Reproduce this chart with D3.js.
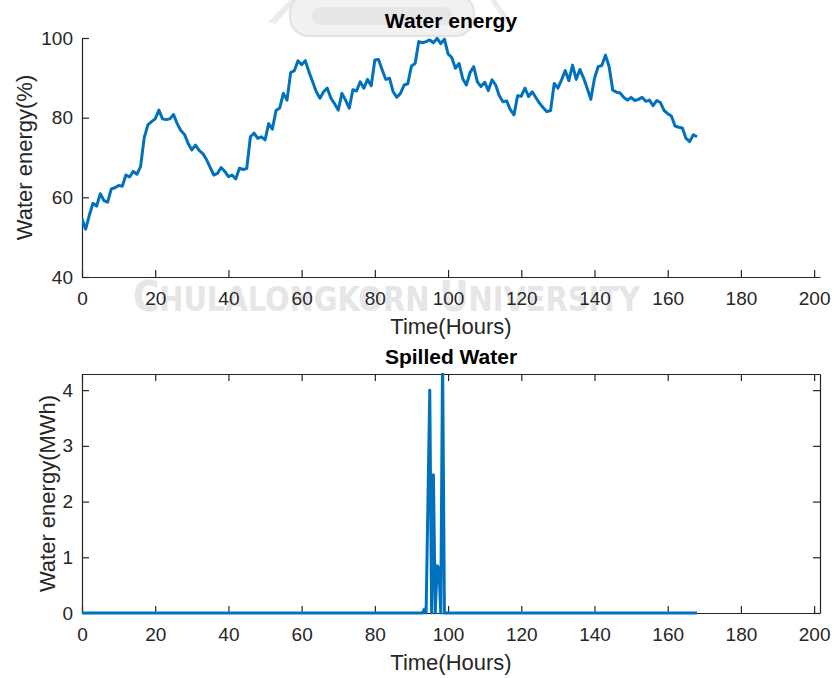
<!DOCTYPE html>
<html>
<head>
<meta charset="utf-8">
<script src="https://cdn.jsdelivr.net/npm/d3@7"></script>
<style>
  body { margin: 0; background: #fff; }
  svg { display: block; font-family: "Liberation Sans", Arial, sans-serif; }
  .axis path, .axis line { stroke: #262626; stroke-width: 1.2; }
  .axis text { fill: #262626; font-size: 19px; font-family: "Liberation Sans", Arial, sans-serif; }
</style>
</head>
<body>
<div id="chart"></div>
<script>
// hourly stored water energy in percent, hour 0..168
const waterEnergy = [
  54.6, 52.0, 55.5, 58.5, 57.8, 60.9, 59.2, 58.8, 62.1, 62.4,
  63.0, 62.8, 65.6, 65.1, 66.5, 65.8, 67.7, 75.0, 78.2, 79.0,
  79.7, 81.9, 79.7, 79.5, 79.7, 80.8, 78.5, 76.8, 75.8, 73.5,
  71.9, 73.1, 71.8, 71.0, 69.5, 67.5, 65.6, 66.0, 67.5, 66.5,
  65.2, 65.6, 64.6, 67.3, 67.0, 67.2, 75.2, 76.1, 74.8, 75.2,
  74.4, 78.5, 77.1, 81.8, 82.4, 86.1, 84.4, 91.3, 91.8, 94.3,
  93.3, 94.3, 91.5, 89.0, 86.5, 84.9, 86.5, 87.4, 84.9, 83.5,
  81.9, 86.1, 84.4, 82.4, 87.0, 86.7, 89.0, 87.4, 89.6, 88.0,
  94.5, 94.6, 92.0, 89.6, 89.9, 86.5, 85.1, 86.1, 88.2, 88.5,
  93.0, 93.6, 99.1, 98.8, 99.1, 99.5, 98.8, 99.9, 98.6, 99.7,
  96.0, 95.1, 92.4, 93.6, 89.8, 88.2, 91.3, 92.8, 89.0, 87.8,
  88.9, 86.8, 89.5, 88.2, 85.5, 84.0, 84.2, 82.0, 80.7, 85.5,
  85.4, 87.4, 85.3, 86.5, 85.0, 83.6, 82.5, 81.5, 81.8, 88.6,
  87.4, 89.5, 91.8, 89.3, 93.2, 89.6, 92.1, 90.0, 87.4, 84.6,
  89.9, 92.8, 93.1, 95.7, 92.8, 86.9, 86.4, 86.2, 85.1, 84.4,
  85.1, 84.3, 84.6, 85.1, 84.1, 84.4, 83.0, 84.3, 83.8, 81.8,
  81.0, 80.4, 77.9, 77.6, 77.4, 74.8, 74.0, 75.7, 75.2
];

// spilled water (MWh), only nonzero around hour 93-99
const spillHours  = [0, 93, 93.5, 94, 95, 95.5, 96, 96.5, 97, 97.5, 98, 98.5, 99, 168];
const spillValues = [0, 0, 0.07, 0, 4.0, 0, 2.48, 0, 0.85, 0.8, 0, 4.6, 0, 0];

const xTicks = [0, 20, 40, 60, 80, 100, 120, 140, 160, 180, 200];
const energyTicks = [40, 60, 80, 100];
const spillTicks = [0, 1, 2, 3, 4];

const W = 834, H = 678;
const lineColor = '#0072BD';

const svg = d3.select('#chart').append('svg')
  .attr('width', W)
  .attr('height', H);

// faint university watermark behind everything
const wm = svg.append('g').attr('class', 'watermark');
wm.append('path')
  .attr('d', 'M268,22 L290,0 L296,0 L276,24 Z M490,0 L496,0 L512,22 L506,24 Z')
  .attr('fill', '#ececec');
wm.append('rect')
  .attr('x', 290).attr('y', -6).attr('width', 184).attr('height', 42).attr('rx', 19)
  .attr('fill', '#f1f1f1').attr('stroke', '#e2e2e2').attr('stroke-width', 2);
wm.append('rect')
  .attr('x', 312).attr('y', 7).attr('width', 140).attr('height', 18).attr('rx', 8)
  .attr('fill', '#e6e6e6');
const wmText = wm.append('text')
  .attr('x', 133).attr('y', 311)
  .attr('textLength', 507).attr('lengthAdjust', 'spacingAndGlyphs')
  .attr('fill', '#e6e6e6')
  .attr('font-family', '"DejaVu Sans Condensed", "DejaVu Sans", sans-serif')
  .attr('font-weight', 'bold');
wmText.append('tspan').attr('font-size', 42).text('C');
wmText.append('tspan').attr('font-size', 34).text('HULALONGKORN ');
wmText.append('tspan').attr('font-size', 42).text('U');
wmText.append('tspan').attr('font-size', 34).text('NIVERSITY');

const x = d3.scaleLinear().domain([0, 201.6]).range([82, 820]);

function drawPanel(opts) {
  const { top, bottom, yDomain, ticks, title, yLabel, box, labelX, clipId } = opts;
  const y = d3.scaleLinear().domain(yDomain).range([bottom, top]);
  const g = svg.append('g');

  // x axis
  g.append('g')
    .attr('class', 'axis')
    .attr('transform', `translate(0,${bottom})`)
    .call(d3.axisBottom(x).tickValues(xTicks).tickSize(-7).tickSizeOuter(0).tickPadding(14.5).tickFormat(d3.format('d')));

  // y axis
  g.append('g')
    .attr('class', 'axis')
    .attr('transform', 'translate(82,0)')
    .call(d3.axisLeft(y).tickValues(ticks).tickSize(-7).tickSizeOuter(0).tickPadding(9).tickFormat(d3.format('d')));

  if (box) {
    // top and right edges with their own inward ticks
    g.append('g')
      .attr('class', 'axis axis-top')
      .attr('transform', `translate(0,${top})`)
      .call(d3.axisTop(x).tickValues(xTicks).tickSize(-7).tickSizeOuter(0).tickFormat(''));
    g.select('.axis-top path').attr('stroke', '#7a7a7a');
    g.append('g')
      .attr('class', 'axis')
      .attr('transform', `translate(${x.range()[1]},0)`)
      .call(d3.axisRight(y).tickValues(ticks).tickSize(-7).tickSizeOuter(0).tickFormat(''));
  }

  g.append('clipPath').attr('id', clipId)
    .append('rect')
    .attr('x', 82).attr('y', top - 1)
    .attr('width', x.range()[1] - 82).attr('height', bottom - top + 3);

  g.append('text')
    .attr('x', 451).attr('y', top - 10)
    .attr('text-anchor', 'middle')
    .attr('font-size', 21).attr('font-weight', 'bold')
    .attr('fill', '#000')
    .text(title);

  g.append('text')
    .attr('x', 451).attr('y', bottom + 57)
    .attr('text-anchor', 'middle')
    .attr('font-size', 22).attr('fill', '#262626')
    .text('Time(Hours)');

  g.append('text')
    .attr('transform', `translate(${labelX},${(top + bottom) / 2}) rotate(-90)`)
    .attr('text-anchor', 'middle')
    .attr('font-size', 22).attr('fill', '#262626')
    .text(yLabel);

  return { g, y };
}

// top panel: water energy in percent
const p1 = drawPanel({
  top: 38, bottom: 277, yDomain: [40, 100], ticks: energyTicks,
  title: 'Water energy', yLabel: 'Water energy(%)', box: false, labelX: 32, clipId: 'clip1'
});
const line1 = d3.line()
  .x((d, i) => x(i))
  .y(d => p1.y(d));
p1.g.append('path')
  .datum(waterEnergy)
  .attr('fill', 'none')
  .attr('stroke', lineColor)
  .attr('stroke-width', 3)
  .attr('stroke-linejoin', 'round')
  .attr('clip-path', 'url(#clip1)')
  .attr('d', line1);

// bottom panel: spilled water
const p2 = drawPanel({
  top: 374, bottom: 613, yDomain: [0, 4.29], ticks: spillTicks,
  title: 'Spilled Water', yLabel: 'Water energy(MWh)', box: true, labelX: 55, clipId: 'clip2'
});
const line2 = d3.line()
  .x(d => x(d[0]))
  .y(d => p2.y(d[1]));
p2.g.append('path')
  .datum(spillHours.map((h, i) => [h, spillValues[i]]))
  .attr('fill', 'none')
  .attr('stroke', lineColor)
  .attr('stroke-width', 3)
  .attr('stroke-linejoin', 'round')
  .attr('clip-path', 'url(#clip2)')
  .attr('d', line2);
</script>
</body>
</html>
